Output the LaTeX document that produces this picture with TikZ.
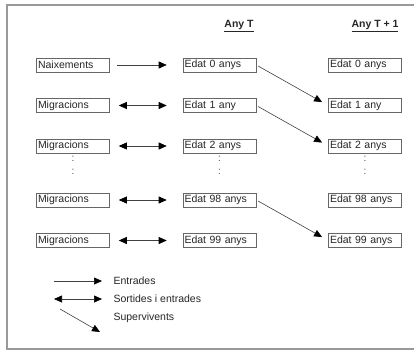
\documentclass[tikz,border=0pt]{standalone}
\usepackage{fontspec}
\setmainfont{Liberation Sans}
\usetikzlibrary{arrows.meta}
\begin{document}
\begin{tikzpicture}[x=1pt,y=-1pt,
  box/.style={draw=black!60, line width=0.6pt, minimum height=14pt, inner sep=1.5pt,
    text width=70pt, align=left, font=\fontsize{10.5}{12}\selectfont, text=black!85},
  hdr/.style={font=\bfseries\fontsize{10.5}{12}\selectfont, text=black!85},
  lbl/.style={font=\fontsize{10.5}{12}\selectfont, text=black!85, anchor=west},
  vdots/.style={font=\fontsize{10}{12}\selectfont, text=black!70},
  tip/.style={Triangle[length=8pt,width=7pt,color=black]},
  arr/.style={line width=0.6pt, draw=black!75, -{Triangle[length=8pt,width=7pt,color=black]}},
  darr/.style={line width=0.6pt, draw=black!75, {Triangle[length=8pt,width=7pt,color=black]}-{Triangle[length=8pt,width=7pt,color=black]}}
]
\useasboundingbox (0,0) rectangle (414,351);
% frame
\draw[black!40, line width=1.4pt] (416,5) -- (7,5) -- (7,349) -- (416,349);

% headers
\node[hdr] (hT) at (239,26) {\underline{Any T}};
\node[hdr] (hT1) at (375,26) {\underline{Any T + 1}};

% left column
\node[box] (l0) at (73,65) {Naixements};
\node[box] (l1) at (73,105.5) {Migracions};
\node[box] (l2) at (73,146) {Migracions};
\node[box] (l98) at (73,200) {Migracions};
\node[box] (l99) at (73,240.5) {Migracions};

% middle column
\node[box] (m0) at (219.5,65) {Edat 0 anys};
\node[box] (m1) at (219.5,105.5) {Edat 1 any};
\node[box] (m2) at (219.5,146) {Edat 2 anys};
\node[box] (m98) at (219.5,200) {Edat 98 anys};
\node[box] (m99) at (219.5,240.5) {Edat 99 anys};

% right column
\node[box] (r0) at (365,65) {Edat 0 anys};
\node[box] (r1) at (365,105.5) {Edat 1 any};
\node[box] (r2) at (365,146) {Edat 2 anys};
\node[box] (r98) at (365,200) {Edat 98 anys};
\node[box] (r99) at (365,240.5) {Edat 99 anys};

% dots
\foreach \x/\n in {73/a,219.5/b,365/c}{
  \node[vdots] (d1\n) at (\x,159) {:};
  \node[vdots] (d2\n) at (\x,172) {:};
}

% horizontal arrows
\draw[arr, shorten <=7pt, shorten >=16pt] (l0.east) -- (m0.west);
\foreach \i in {1,2,98,99}{
  \draw[darr, shorten <=9pt, shorten >=16pt] (l\i.east) -- (m\i.west);
}

% survivors
\draw[arr, shorten <=2pt, shorten >=7pt] (m0.east) -- (r1.west);
\draw[arr, shorten <=2pt, shorten >=7pt] (m1.east) -- (r2.west);
\draw[arr, shorten <=2pt, shorten >=7pt] (m98.east) -- (r99.west);

% legend
\coordinate (e1) at (54,281);
\coordinate (e2) at (102,281);
\coordinate (s1) at (54,299);
\coordinate (s2) at (102,299);
\coordinate (v1) at (60,309);
\coordinate (v2) at (100,332);
\draw[arr] (e1) -- (e2);
\draw[darr] (s1) -- (s2);
\draw[arr] (v1) -- (v2);
\node[lbl] (le) at (110,281) {Entrades};
\node[lbl] (ls) at (110,299) {Sortides i entrades};
\node[lbl] (lv) at (110,318) {Supervivents};
\end{tikzpicture}
\end{document}
